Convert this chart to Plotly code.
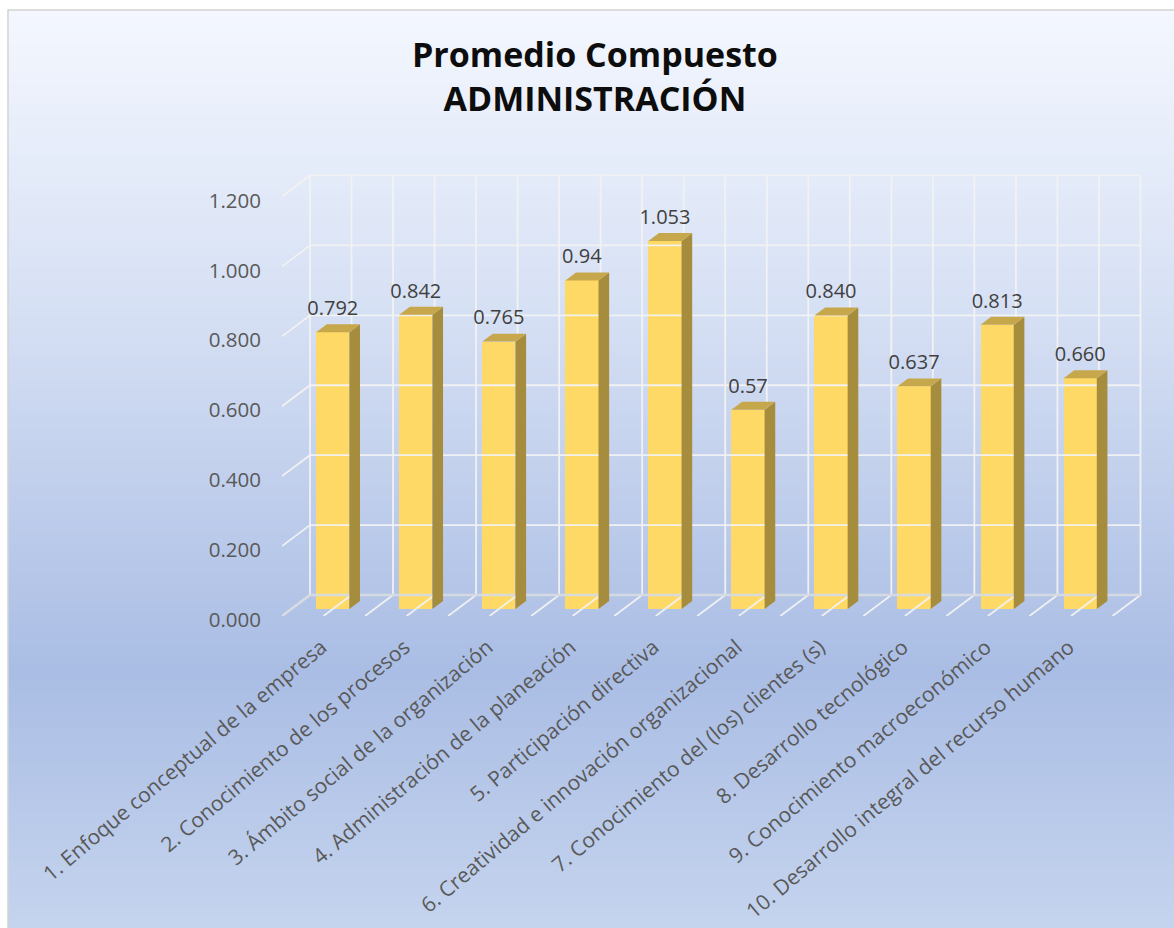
import base64, struct, zlib
import plotly.graph_objects as go

# ---------------- data ----------------
categories = [
    "1. Enfoque conceptual de la empresa",
    "2. Conocimiento de los procesos",
    "3. Ámbito social de la organización",
    "4. Administración de la planeación",
    "5. Participación directiva",
    "6. Creatividad e innovación organizacional",
    "7. Conocimiento del (los) clientes (s)",
    "8. Desarrollo tecnológico",
    "9. Conocimiento macroeconómico",
    "10. Desarrollo integral del recurso humano",
]
values = [0.792, 0.842, 0.765, 0.94, 1.053, 0.57, 0.840, 0.637, 0.813, 0.660]
value_labels = ["0.792", "0.842", "0.765", "0.94", "1.053", "0.57", "0.840", "0.637", "0.813", "0.660"]
y_ticks = [0.0, 0.2, 0.4, 0.6, 0.8, 1.0, 1.2]
title_lines = ["Promedio Compuesto", "ADMINISTRACIÓN"]

# ---------------- geometry / style ----------------
W, H = 1174, 928
ML, MR, MT, MB = 282, 20, 144, 312
XR = [0, 10.5]
YR = [0, 1.35]
PW, PH = W - ML - MR, H - MT - MB
DX, DY = 0.337, 0.06          # depth projection (x units, y units) for full depth
D1, D2 = 0.33, 0.71           # bar front / back depth
BW = 0.4                      # bar width (category units)
FONT = "Open Sans"
n = len(values)

def paper_x(px):
    return (px - ML) / PW

def paper_y(py):
    return (H - MB - py) / PH

# background gradient as tiny PNG
stops = [(0.0, (244, 247, 254)), (0.33, (214, 224, 244)), (0.72, (170, 189, 228)), (1.0, (197, 212, 238))]
def grad_color(t):
    for (t0, c0), (t1, c1) in zip(stops[:-1], stops[1:]):
        if t <= t1:
            f = (t - t0) / (t1 - t0)
            return tuple(int(round(c0[k] + (c1[k] - c0[k]) * f)) for k in range(3))
    return stops[-1][1]

rows = 256
raw = b"".join(b"\x00" + bytes(grad_color(r / (rows - 1))) for r in range(rows))
def chunk(tag, data):
    c = struct.pack(">I", len(data)) + tag + data
    return c + struct.pack(">I", zlib.crc32(tag + data) & 0xffffffff)
png = (b"\x89PNG\r\n\x1a\n" + chunk(b"IHDR", struct.pack(">IIBBBBB", 1, rows, 8, 2, 0, 0, 0))
       + chunk(b"IDAT", zlib.compress(raw)) + chunk(b"IEND", b""))
bg_uri = "data:image/png;base64," + base64.b64encode(png).decode()

fig = go.Figure()

# ---------------- grid (walls / floor) ----------------
gx, gy = [], []
for v in y_ticks:
    if v == 0:
        continue
    gx += [0, DX, n + DX, None]
    gy += [v, v + DY, v + DY, None]
for k in range(2 * n + 1):
    x0 = k * 0.5
    gx += [x0, x0 + DX, x0 + DX, None]
    gy += [0, DY, y_ticks[-1] + DY, None]
fig.add_trace(go.Scatter(x=gx, y=gy, mode="lines", line=dict(color="rgba(242,242,242,0.95)", width=1.8),
                         hoverinfo="skip", showlegend=False))
fig.add_trace(go.Scatter(x=[0, DX, n + DX], y=[0, DY, DY], mode="lines",
                         line=dict(color="rgba(215,218,224,0.95)", width=2.4),
                         hoverinfo="skip", showlegend=False))

# ---------------- 3D bar faces ----------------
sx, sy, tx, ty = [], [], [], []
for i, v in enumerate(values):
    xl = i + 0.5 - BW / 2
    xr = i + 0.5 + BW / 2
    sx += [xr + DX * D1, xr + DX * D2, xr + DX * D2, xr + DX * D1, xr + DX * D1, None]
    sy += [DY * D1, DY * D2, v + DY * D2, v + DY * D1, DY * D1, None]
    tx += [xl + DX * D1, xr + DX * D1, xr + DX * D2, xl + DX * D2, xl + DX * D1, None]
    ty += [v + DY * D1, v + DY * D1, v + DY * D2, v + DY * D2, v + DY * D1, None]
fig.add_trace(go.Scatter(x=sx, y=sy, mode="lines", fill="toself", fillcolor="#A68D3D",
                         line=dict(width=0, color="#A68D3D"), hoverinfo="skip", showlegend=False))
fig.add_trace(go.Scatter(x=tx, y=ty, mode="lines", fill="toself", fillcolor="#C7A74C",
                         line=dict(width=0, color="#C7A74C"), hoverinfo="skip", showlegend=False))
fig.add_trace(go.Bar(x=[i + 0.5 + DX * D1 for i in range(n)], y=values, base=[DY * D1] * n,
                     width=BW, marker=dict(color="#FFD966", line=dict(width=0)),
                     hoverinfo="skip", showlegend=False))

# value labels
fig.add_trace(go.Scatter(x=[i + 0.5 + DX * D1 for i in range(n)],
                         y=[v + DY * D2 + 0.012 for v in values],
                         mode="text", text=value_labels, textposition="top center",
                         textfont=dict(family=FONT, size=20, color="#404040"),
                         hoverinfo="skip", showlegend=False))

# title
annotations = [dict(text="<b>" + "<br>".join(title_lines) + "</b>", xref="paper", yref="paper",
                    x=paper_x(595), y=paper_y(76), xanchor="center", yanchor="middle",
                    showarrow=False, font=dict(family=FONT, size=34, color="#0d0d0d"))]

# ---------------- layout ----------------
fig.update_layout(
    width=W, height=H,
    margin=dict(l=ML, r=MR, t=MT, b=MB, autoexpand=False),
    paper_bgcolor="white", plot_bgcolor="rgba(0,0,0,0)",
    showlegend=False, bargap=0,
    annotations=annotations,
    xaxis=dict(range=XR, showgrid=False, zeroline=False, showline=False,
               tickmode="array", tickvals=[i + 0.5 for i in range(n)], ticktext=categories,
               tickangle=-40, ticks="", ticklabelstandoff=14, ticklabelshift=-2,
               tickfont=dict(family=FONT, size=21, color="#595959"), automargin=False, fixedrange=True),
    yaxis=dict(range=YR, showgrid=False, zeroline=False, showline=False,
               tickmode="array", tickvals=y_ticks, tickformat=".3f", ticks="",
               ticklabelstandoff=20, ticklabelshift=4,
               tickfont=dict(family=FONT, size=20.5, color="#595959"), automargin=False, fixedrange=True),
    images=[dict(source=bg_uri, xref="paper", yref="paper",
                 x=paper_x(8), y=paper_y(10), sizex=paper_x(W + 2) - paper_x(8),
                 sizey=paper_y(10) - paper_y(H + 2), xanchor="left", yanchor="top",
                 sizing="stretch", layer="below")],
    shapes=[dict(type="rect", xref="paper", yref="paper",
                 x0=paper_x(8), x1=paper_x(W + 5), y0=paper_y(H + 5), y1=paper_y(10),
                 line=dict(color="#d4d4d4", width=1.5), fillcolor="rgba(0,0,0,0)", layer="above")],
)

fig.write_html("out.html", config={"displayModeBar": False},
               post_script="document.body.style.margin='0';document.body.style.overflow='hidden';")
